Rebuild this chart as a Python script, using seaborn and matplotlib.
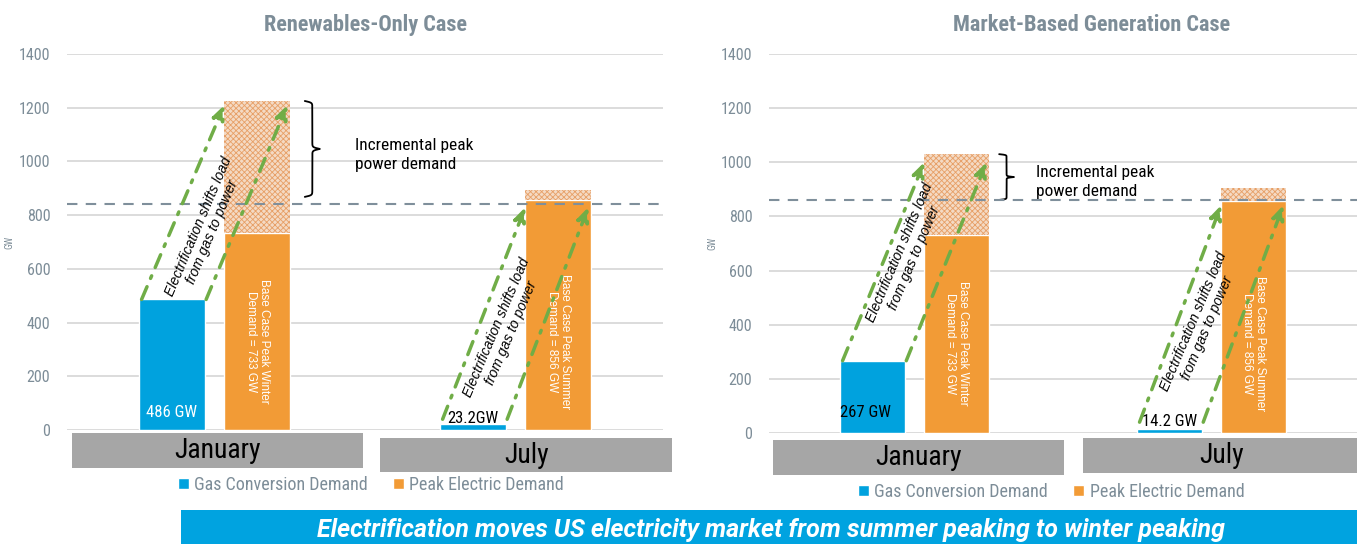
import numpy as np
import pandas as pd
import matplotlib
matplotlib.use("Agg")
import matplotlib.pyplot as plt
import matplotlib.transforms as mtransforms
from matplotlib.patches import Rectangle
import seaborn as sns

# ---- data (GW) ----
months = ["January", "July"]
series = ["Gas Conversion Demand", "Peak Electric Demand"]

ren_gas = [486, 23.2]
ren_peak = [733, 856]
ren_total = [1225, 895]      # top of the hatched incremental block
ren_ref = 842                # dashed reference line
ren_arrow_tip = [1210, 830]

mkt_gas = [267, 14.2]
mkt_peak = [733, 856]
mkt_total = [1030, 905]
mkt_ref = 860
mkt_arrow_tip = [1000, 842]

ren_gas_labels = ["486 GW", "23.2GW"]
mkt_gas_labels = ["267 GW", "14.2 GW"]
peak_labels = ["Base Case Peak Winter\nDemand = 733 GW",
               "Base Case Peak Summer\nDemand = 856 GW"]
yticks = [0, 200, 400, 600, 800, 1000, 1200, 1400]

BLUE = "#00a2de"
ORANGE = "#f29b36"
GREEN = "#70ad47"
GREYTXT = "#7d8d98"
BOX = "#a6a6a6"

NARROW = ["Roboto Condensed", "Roboto", "DejaVu Sans"]
ARIAL = ["Liberation Sans", "DejaVu Sans"]

sns.set_theme(style="white")
plt.rcParams["font.family"] = NARROW
plt.rcParams["hatch.linewidth"] = 0.6

W, H = 1357, 544


def fx(x):
    return x / W


def fy(y):
    return 1 - y / H


def brace(ax, x, y0, y1, w, beta=120):
    # curly brace pointing right, vertical between y0 and y1 (data units)
    s = np.linspace(0, 0.5, 200)
    h = 1 / (1 + np.exp(-beta * s)) + 1 / (1 + np.exp(-beta * (s - 0.5))) - 0.5
    hs = np.concatenate([h, h[::-1]])
    ss = np.concatenate([s, 1 - s[::-1]])
    ax.plot(x + w * hs, y0 + (y1 - y0) * ss, color="black", lw=1.3, clip_on=False)


def draw_panel(ax, title, title_x, gas, peak, total, ref, tips, gas_labels,
               elec_pos, brace_x, brace_lo, inc_pos, boxes, leg_pos, gw_x):
    df = pd.DataFrame({
        "month": months * 2,
        "series": [series[0]] * 2 + [series[1]] * 2,
        "GW": gas + peak,
    })
    sns.barplot(data=df, x="month", y="GW", hue="series", hue_order=series,
                palette=[BLUE, ORANGE], saturation=1, width=0.57, gap=0.23,
                ax=ax)
    bars = [p for p in ax.patches if p.get_height() > 0]
    blue, orange = bars[:2], bars[2:4]

    # hatched incremental block
    for i, p in enumerate(orange):
        ax.bar(p.get_x(), total[i] - peak[i], width=p.get_width(), bottom=peak[i],
               align="edge", facecolor="#f4dac4", edgecolor="#e79f66",
               hatch="xxxxxx", linewidth=0, zorder=2)

    ax.axhline(ref, color="#7f8f9b", ls=(0, (5, 4)), lw=1.5, zorder=3)

    ax.set_ylim(0, 1400)
    ax.set_xlim(-0.49, 1.49)
    ax.set_yticks(yticks)
    ax.set_xticks([])
    ax.set_xlabel("")
    ax.set_ylabel("GW", fontsize=7, color=GREYTXT)
    ax.yaxis.set_label_coords(gw_x, 0.5)
    ax.yaxis.grid(True, color="#d9d9d9", lw=1.3)
    ax.set_axisbelow(True)
    sns.despine(ax=ax, left=True, bottom=True)
    ax.tick_params(axis="y", length=0, pad=12, labelsize=11.5, labelcolor=GREYTXT)

    ax.text(title_x, 1 + 29 / 376, title, transform=ax.transAxes, ha="center",
            va="center", fontsize=16, fontweight="bold", color=GREYTXT)

    # gas bar labels
    for i, p in enumerate(blue):
        lab = gas_labels[i]
        xc = p.get_x() + p.get_width() / 2
        if i == 0 and gas[i] > 400:
            ax.text(xc, 67, lab, ha="center", va="center", color="white", fontsize=12)
        elif i == 0:
            ax.text(p.get_x(), 74, lab, ha="left", va="center", color="black", fontsize=12)
        else:
            ax.text(xc, 42, lab, ha="center", va="center", color="black", fontsize=12)

    # base peak labels inside orange bars
    for i, p in enumerate(orange):
        ax.text(p.get_x() + p.get_width() / 2, 330, peak_labels[i], rotation=-90,
                ha="center", va="center", color="white", fontsize=8.5,
                family=ARIAL, linespacing=1.1)

    # green dash-dot arrows: gas -> power
    for i in range(2):
        b, o = blue[i], orange[i]
        y0 = max(gas[i], 40)
        for xs, xe in [(b.get_x() + 0.01, o.get_x()),
                       (b.get_x() + b.get_width() + 0.005, o.get_x() + o.get_width() - 0.01)]:
            ax.annotate("", xy=(xe, tips[i]), xytext=(xs, y0),
                        arrowprops=dict(arrowstyle="-|>,head_length=0.7,head_width=0.3",
                                        color=GREEN, lw=2.5, ls=(0, (4, 2.6, 0.8, 2.6)),
                                        shrinkA=0, shrinkB=0), zorder=4)
        ex, ey = elec_pos[i]
        ax.text(ex, ey, "Electrification shifts load\nfrom gas to power", rotation=67,
                ha="center", va="center", style="italic", fontsize=10, family=ARIAL,
                color="black", linespacing=1.15, zorder=5)

    brace(ax, brace_x, brace_lo, total[0], 0.05)
    ax.text(inc_pos[0], inc_pos[1], "Incremental peak\npower demand", ha="left",
            va="center", fontsize=12.5, color="black", linespacing=1.3)

    # month boxes under the axis
    trans = mtransforms.blended_transform_factory(ax.transData, ax.transAxes)
    for i, (x0, x1, yt, yb) in enumerate(boxes):
        ax.add_patch(Rectangle((x0, yb), x1 - x0, yt - yb, transform=trans,
                               facecolor=BOX, edgecolor="none", clip_on=False))
        ax.text((x0 + x1) / 2, (yt + yb) / 2, months[i], transform=trans,
                ha="center", va="center", fontsize=20, color="black")

    sns.move_legend(ax, "center", bbox_to_anchor=leg_pos, ncol=2, frameon=False,
                    title=None, fontsize=13, labelcolor=GREYTXT, handlelength=0.6,
                    handleheight=0.6, handletextpad=0.3, columnspacing=1.4)


fig = plt.figure(figsize=(W / 100, H / 100), dpi=100)
ax1 = fig.add_axes([fx(67), fy(430), fx(663) - fx(67), fy(54) - fy(430)])
ax2 = fig.add_axes([fx(769), fy(433), fx(1357) - fx(769), fy(54) - fy(433)])

draw_panel(ax1, "Renewables-Only Case", 0.5, ren_gas, ren_peak, ren_total, ren_ref,
           ren_arrow_tip, ren_gas_labels,
           elec_pos=[(-0.03, 748), (0.962, 372)],
           brace_x=0.30, brace_lo=868, inc_pos=(0.468, 1024),
           boxes=[(-0.472, 0.492, -0.008, -0.101), (0.551, 1.52, -0.021, -0.112)],
           leg_pos=(0.51, -0.146), gw_x=-0.089)

draw_panel(ax2, "Market-Based Generation Case", 0.548, mkt_gas, mkt_peak, mkt_total,
           mkt_ref, mkt_arrow_tip, mkt_gas_labels,
           elec_pos=[(-0.025, 657), (0.963, 399)],
           brace_x=0.285, brace_lo=861, inc_pos=(0.41, 927),
           boxes=[(-0.478, 0.502, -0.018, -0.111), (0.566, 1.5, -0.013, -0.106)],
           leg_pos=(0.48, -0.156), gw_x=-0.088)

# bottom banner
fig.add_artist(Rectangle((fx(181), 0), fx(W) - fx(181), fy(510), transform=fig.transFigure,
                         facecolor="#00a3e0", edgecolor="none"))
fig.text(fx(771), fy(530), "Electrification moves US electricity market from summer peaking to winter peaking",
         ha="center", va="center", color="white", fontsize=18, fontweight="bold",
         style="italic", family=["Roboto", "DejaVu Sans"])

fig.savefig("out.png", dpi=100)
